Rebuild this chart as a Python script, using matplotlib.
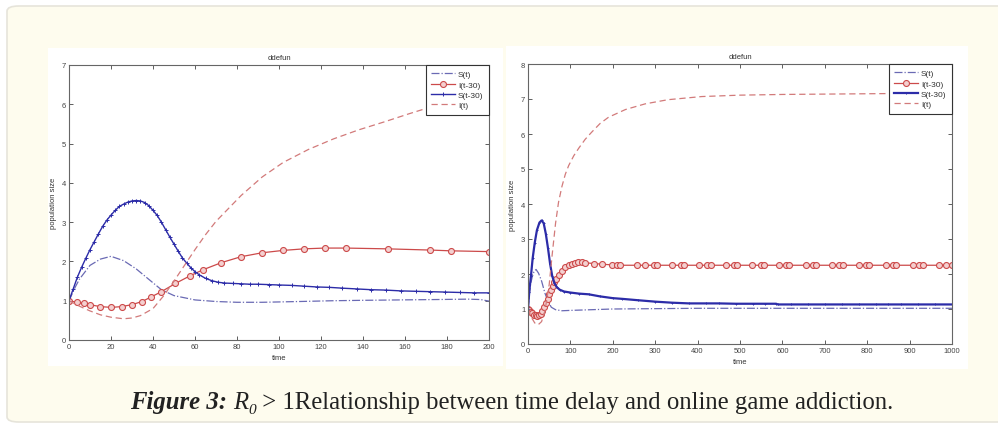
import matplotlib
matplotlib.use("Agg")
import matplotlib.pyplot as plt
from matplotlib.patches import FancyBboxPatch, Rectangle

# ---- left panel (t = 0..200) ----
t_s_l = [0, 3, 5, 10, 15, 20, 26, 32, 39, 44, 50, 60, 70, 80, 92, 110, 126, 140, 157, 175, 190, 196, 200]
s_l = [1.0, 1.35, 1.55, 1.9, 2.06, 2.13, 2.02, 1.81, 1.5, 1.28, 1.13, 1.02, 0.98, 0.96, 0.96, 0.98, 1.0,
       1.01, 1.02, 1.03, 1.04, 1.03, 0.99]

t_id_l = [0, 3.8, 7, 9.8, 14.9, 20.2, 25, 30, 34.8, 38.9, 44, 50.7, 57.5, 63.9, 72.6, 81.9, 91.9, 101.9,
          111.8, 121.8, 131.8, 151.7, 171.7, 181.7, 200]
id_l = [1.0, 0.96, 0.93, 0.9, 0.85, 0.83, 0.85, 0.9, 0.98, 1.09, 1.23, 1.44, 1.63, 1.79, 1.97, 2.12, 2.22,
        2.28, 2.32, 2.34, 2.34, 2.32, 2.29, 2.27, 2.25]

t_sd_l = [0, 2, 4, 6, 8, 10, 12, 14, 16, 18, 20, 22, 24, 26, 28, 30, 32, 34, 36, 38, 40, 42, 44, 46, 48,
          50, 52, 54, 56, 58, 60, 62, 65, 68, 71, 74, 78, 82, 86, 90, 95, 100, 106, 112, 118, 124, 130,
          137, 144, 151, 158, 165, 172, 179, 186, 193, 200]
sd_l = [1.0, 1.3, 1.6, 1.85, 2.08, 2.3, 2.5, 2.7, 2.89, 3.05, 3.18, 3.3, 3.4, 3.46, 3.51, 3.54, 3.55,
        3.54, 3.5, 3.42, 3.3, 3.17, 3.0, 2.81, 2.62, 2.44, 2.26, 2.09, 1.96, 1.84, 1.74, 1.66, 1.57, 1.51,
        1.47, 1.45, 1.44, 1.43, 1.42, 1.42, 1.41, 1.4, 1.39, 1.37, 1.35, 1.34, 1.32, 1.3, 1.28, 1.27,
        1.25, 1.24, 1.23, 1.22, 1.21, 1.2, 1.2]

t_i_l = [0, 5, 10, 15, 20, 26, 30, 34, 40, 45, 50, 55, 60, 65, 70, 76, 82, 92, 102, 114, 126, 138, 150,
         162, 174, 187, 200]
i_l = [1.0, 0.86, 0.74, 0.64, 0.58, 0.54, 0.56, 0.62, 0.8, 1.12, 1.5, 1.9, 2.3, 2.68, 3.02, 3.35, 3.68,
       4.15, 4.52, 4.85, 5.12, 5.35, 5.55, 5.76, 5.96, 6.1, 6.22]

# ---- right panel (t = 0..1000) ----
t_s_r = [0, 3, 6, 10, 14, 19, 25, 32, 40, 48, 55, 65, 80, 100, 150, 200, 300, 400, 500, 600, 700, 800,
         900, 1000]
s_r = [1.0, 1.4, 1.7, 1.92, 2.06, 2.13, 2.02, 1.8, 1.45, 1.2, 1.05, 0.98, 0.95, 0.96, 0.98, 1.0, 1.01,
       1.02, 1.02, 1.02, 1.02, 1.02, 1.02, 1.02]

t_id_r = [0, 3, 6, 10, 14, 18, 22, 26, 30, 34, 38, 42, 46, 50, 54, 58, 62, 66, 72, 80, 88, 96, 104, 112,
          119, 127, 135, 155, 175, 198, 210, 218, 257, 277, 297, 305, 340, 360, 368, 403, 423, 431, 466,
          486, 494, 529, 549, 557, 592, 608, 616, 655, 671, 679, 718, 734, 742, 781, 797, 805, 844, 860,
          868, 907, 923, 931, 970, 986, 1000]
id_r = [1.0, 0.96, 0.92, 0.88, 0.84, 0.82, 0.81, 0.83, 0.87, 0.95, 1.05, 1.17, 1.3, 1.43, 1.55, 1.66,
        1.76, 1.85, 1.97, 2.1, 2.19, 2.25, 2.29, 2.32, 2.33, 2.33, 2.32, 2.3, 2.28, 2.26, 2.26, 2.25,
        2.25, 2.25, 2.25, 2.25, 2.25, 2.25, 2.25, 2.25, 2.25, 2.25, 2.25, 2.25, 2.25, 2.25, 2.25, 2.25,
        2.25, 2.25, 2.25, 2.25, 2.25, 2.25, 2.25, 2.25, 2.25, 2.25, 2.25, 2.25, 2.25, 2.25, 2.25, 2.25,
        2.25, 2.25, 2.25, 2.25, 2.25]

t_sd_r = [0, 3, 7, 11, 16, 21, 27, 32, 37, 42, 47, 52, 57, 62, 68, 75, 85, 100, 120, 143, 170, 200, 222,
          260, 300, 340, 380, 420, 450, 490, 530, 560, 585, 590, 620, 660, 700, 740, 780, 820, 850, 880,
          920, 960, 1000]
sd_r = [1.0, 1.5, 1.95, 2.45, 2.9, 3.25, 3.47, 3.53, 3.45, 3.15, 2.75, 2.3, 1.95, 1.75, 1.62, 1.55, 1.5,
        1.47, 1.44, 1.42, 1.36, 1.31, 1.29, 1.25, 1.21, 1.18, 1.16, 1.16, 1.16, 1.15, 1.15, 1.15, 1.15,
        1.13, 1.13, 1.13, 1.13, 1.13, 1.13, 1.13, 1.13, 1.13, 1.13, 1.13, 1.13]

t_i_r = [0, 8, 16, 24, 32, 40, 50, 57, 65, 72, 80, 88, 96, 108, 120, 135, 150, 170, 190, 230, 276, 330,
         410, 500, 600, 700, 800, 900, 1000]
i_r = [1.0, 0.76, 0.6, 0.55, 0.64, 0.95, 1.7, 2.55, 3.45, 4.05, 4.5, 4.85, 5.1, 5.38, 5.6, 5.85, 6.05,
       6.3, 6.48, 6.7, 6.86, 6.98, 7.07, 7.11, 7.13, 7.14, 7.15, 7.16, 7.16]

labels = ["S(t)", "I(t-30)", "S(t-30)", "I(t)"]

W, H = 998, 427
fig = plt.figure(figsize=(W / 100, H / 100), dpi=100)
fig.patch.set_facecolor("white")

# cream card behind everything
card = FancyBboxPatch((7 / W, 4 / H), 1.05, (H - 11) / H,
                      boxstyle="round,pad=0,rounding_size=0.012",
                      transform=fig.transFigure, facecolor="#fefcee",
                      edgecolor="#e6e4da", linewidth=1.2, zorder=-3)
fig.patches.append(card)
# the two white screenshots
fig.patches.append(Rectangle((48 / W, 1 - 367 / H), 455 / W, 318 / H, transform=fig.transFigure,
                             facecolor="white", edgecolor="none", zorder=-2))
fig.patches.append(Rectangle((506 / W, 1 - 370 / H), 462 / W, 323 / H, transform=fig.transFigure,
                             facecolor="white", edgecolor="none", zorder=-2))

c_sdash = "#6a6ab4"
c_red = "#cc4a4a"
c_blue = "#2c2ca8"
c_idash = "#d27a7a"
fs = 5.5
fam = "Liberation Sans"


def setup(ax, xmax, ymax, xstep, xlab_y, ylab_x):
    ax.set_xlim(0, xmax)
    ax.set_ylim(0, ymax)
    ax.set_xticks(range(0, xmax + 1, xstep))
    ax.set_yticks(range(0, ymax + 1))
    ax.tick_params(direction="in", top=True, right=True, length=3, width=0.6, pad=2,
                   labelsize=fs, colors="#444444")
    for sp in ax.spines.values():
        sp.set_color("#666666")
        sp.set_linewidth(0.8)
    for lab in ax.get_xticklabels() + ax.get_yticklabels():
        lab.set_family(fam)
    ax.set_title("ddefun", fontsize=fs, family=fam, color="#333333", pad=4)
    ax.set_xlabel("time", fontsize=fs, family=fam, color="#333333")
    ax.set_ylabel("population size", fontsize=fs, family=fam, color="#333333")
    ax.xaxis.set_label_coords(0.5, xlab_y)
    ax.yaxis.set_label_coords(ylab_x, 0.5)


def draw(ax, ts, s, tid, idv, tsd, sd, ti, iv, blue_lw, blue_ms):
    ax.plot(ts, s, color=c_sdash, lw=0.9, ls="-.", label=labels[0])
    ax.plot(tid, idv, color=c_red, lw=0.9, marker="o", ms=4.3, mfc="#f4d0d0", mec=c_red, mew=0.8,
            label=labels[1])
    ax.plot(tsd, sd, color=c_blue, lw=blue_lw, marker="+", ms=blue_ms, mew=0.7, label=labels[2])
    ax.plot(ti, iv, color=c_idash, lw=0.9, ls=(0, (5, 3)), label=labels[3])
    leg = ax.legend(loc="upper right", prop={"family": fam, "size": 6},
                    borderaxespad=0, fancybox=False, framealpha=1, edgecolor="#333333",
                    handlelength=2.8, labelspacing=0.3, borderpad=0.65, handletextpad=0.4)
    leg.get_frame().set_linewidth(0.8)
    for txt in leg.get_texts():
        txt.set_color("#333333")


ax1 = fig.add_axes([69 / W, 1 - 341 / H, 420 / W, 275 / H])
setup(ax1, 200, 7, 20, -0.051, -0.029)
draw(ax1, t_s_l, s_l, t_id_l, id_l, t_sd_l, sd_l, t_i_l, i_l, 1.0, 2.5)

ax2 = fig.add_axes([528 / W, 1 - 345 / H, 424 / W, 280 / H])
setup(ax2, 1000, 8, 100, -0.05, -0.028)
draw(ax2, t_s_r, s_r, t_id_r, id_r, t_sd_r, sd_r, t_i_r, i_r, 1.6, 2.0)

# caption built from pieces with different styles
renderer = fig.canvas.get_renderer()
cap_fs = 17.8
serif = "Liberation Serif"
pieces = [
    ("Figure 3:", dict(weight="bold", style="italic"), 0),
    (" ", dict(), 0),
    ("R", dict(style="italic"), 0),
    ("0", dict(style="italic", size=cap_fs * 0.62), -5),
    (" > 1Relationship between time delay and online game addiction.", dict(), 0),
]
y_cap = 1 - 409 / H
objs = []
total = 0
for s, kw, dy in pieces:
    kw = dict(kw)
    size = kw.pop("size", cap_fs)
    t = fig.text(0, y_cap + dy / H, s, fontsize=size, family=serif, color="#222222",
                 va="baseline", ha="left", **kw)
    w = t.get_window_extent(renderer).width
    objs.append((t, w))
    total += w
x = 512 - total / 2
for t, w in objs:
    t.set_x(x / W)
    x += w

fig.savefig("out.png", dpi=100, facecolor=fig.get_facecolor())
